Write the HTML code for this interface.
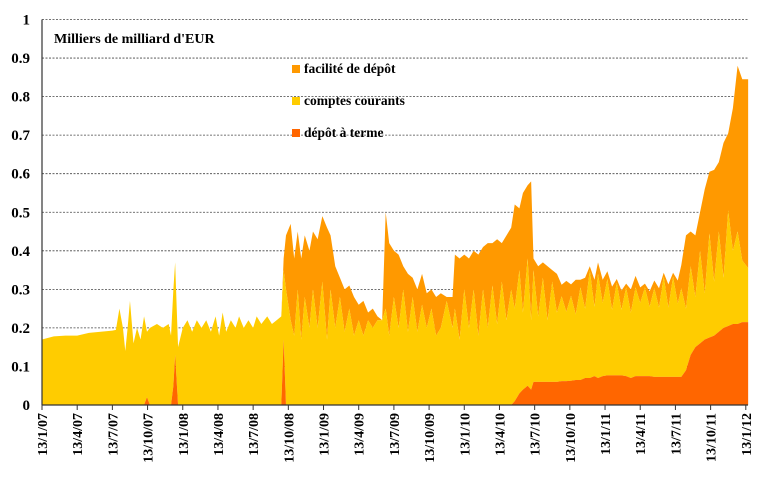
<!DOCTYPE html>
<html><head><meta charset="utf-8"><style>
html,body{margin:0;padding:0;background:#fff;width:780px;height:500px;overflow:hidden}
svg text{font-family:"Liberation Serif",serif;font-weight:bold;fill:#000}
</style></head><body>
<svg id="chart" width="780" height="500" xmlns="http://www.w3.org/2000/svg"></svg>
<script>
const months=[0,1,2,3,4,5,6,6.3,6.6,6.9,7.1,7.3,7.5,7.8,8.1,8.4,8.7,8.95,9.2,9.8,10.3,10.8,11.0,11.2,11.35,11.6,12,12.4,12.8,13.2,13.6,14,14.4,14.8,15.1,15.4,15.7,16.1,16.5,16.8,17.2,17.6,18,18.3,18.7,19.2,19.6,20,20.4,20.6,20.8,21.2,21.5,21.8,22.1,22.4,22.8,23.1,23.5,23.9,24.3,24.6,25,25.4,25.8,26.2,26.6,27,27.4,27.8,28.2,28.6,29.0,29.3,29.6,30,30.4,30.8,31.2,31.6,32,32.4,32.8,33.2,33.6,34,34.5,35,35.2,35.6,36,36.4,36.8,37.2,37.6,38,38.4,38.8,39.2,39.6,40,40.3,40.7,41.0,41.4,41.7,41.9,42.3,42.7,43.1,43.5,43.9,44.3,44.7,45.1,45.5,45.9,46.3,46.7,47.1,47.4,47.8,48.2,48.6,49,49.4,49.8,50.2,50.6,51,51.4,51.8,52.2,52.6,53,53.4,53.8,54.2,54.5,54.9,55.3,55.7,56.1,56.5,56.9,57.3,57.7,58.1,58.5,58.9,59.3,59.7,60.2];
const depotTerme=[0,0,0,0,0,0,0,0,0,0,0,0,0,0,0,0,0,.02,0,0,0,0,0,.05,.13,0,0,0,0,0,0,0,0,0,0,0,0,0,0,0,0,0,0,0,0,0,0,0,0,.17,0,0,0,0,0,0,0,0,0,0,0,0,0,0,0,0,0,0,0,0,0,0,0,0,0,0,0,0,0,0,0,0,0,0,0,0,0,0,0,0,0,0,0,0,0,0,0,0,0,0,0,.01,.03,.04,.05,.04,.06,.06,.06,.06,.06,.06,.062,.062,.063,.065,.065,.07,.07,.075,.07,.075,.077,.077,.077,.077,.075,.07,.075,.075,.075,.075,.073,.073,.073,.073,.073,.073,.073,.09,.13,.15,.16,.17,.175,.18,.19,.2,.205,.21,.21,.215,.215];
const comptesCourants=[.17,.178,.18,.18,.187,.19,.193,.195,.25,.2,.14,.2,.27,.16,.2,.17,.23,.17,.2,.21,.2,.21,.18,.25,.24,.15,.2,.22,.19,.22,.2,.22,.19,.23,.18,.24,.19,.22,.2,.23,.2,.22,.2,.23,.21,.23,.21,.22,.23,.18,.3,.22,.18,.3,.17,.28,.2,.3,.2,.32,.17,.3,.2,.28,.19,.25,.18,.22,.18,.22,.2,.22,.22,.25,.18,.28,.2,.3,.19,.28,.19,.26,.2,.25,.18,.2,.27,.2,.25,.17,.3,.2,.3,.18,.3,.2,.31,.21,.32,.22,.3,.24,.32,.2,.33,.18,.29,.17,.27,.16,.26,.18,.22,.18,.22,.17,.24,.18,.28,.18,.27,.19,.25,.17,.24,.17,.23,.17,.23,.19,.23,.18,.23,.18,.26,.18,.26,.19,.23,.16,.23,.13,.24,.12,.27,.14,.26,.13,.3,.19,.24,.16,.14];
const faciliteDepot=[0,0,0,0,0,0,0,0,0,0,0,0,0,0,0,0,0,0,0,0,0,0,0,0,0,0,0,0,0,0,0,0,0,0,0,0,0,0,0,0,0,0,0,0,0,0,0,0,0,.03,.14,.25,.2,.15,.21,.16,.2,.15,.23,.17,.29,.14,.16,.05,.11,.06,.1,.04,.09,.02,.05,.01,0,.25,.24,.12,.19,.06,.15,.05,.11,.08,.09,.05,.1,.09,.01,.08,.14,.21,.09,.18,.1,.21,.11,.22,.11,.22,.1,.22,.16,.27,.16,.31,.19,.36,.03,.13,.04,.14,.03,.1,.03,.08,.03,.09,.02,.08,.01,.07,.03,.06,.02,.06,.01,.05,.01,.06,.03,.04,.01,.04,.02,.05,.01,.06,.01,.06,.06,.19,.09,.16,.1,.27,.16,.29,.18,.35,.2,.37,.43,.47,.49];
const yTicks=[0,0.1,0.2,0.3,0.4,0.5,0.6,0.7,0.8,0.9,1];
const yTickLabels=["0","0.1","0.2","0.3","0.4","0.5","0.6","0.7","0.8","0.9","1"];
const xTickMonths=[0,3,6,9,12,15,18,21,24,27,30,33,36,39,42,45,48,51,54,57,60];
const xTickLabels=["13/1/07","13/4/07","13/7/07","13/10/07","13/1/08","13/4/08","13/7/08","13/10/08","13/1/09","13/4/09","13/7/09","13/10/09","13/1/10","13/4/10","13/7/10","13/10/10","13/1/11","13/4/11","13/7/11","13/10/11","13/1/12"];

const svg=document.getElementById('chart');
const NS='http://www.w3.org/2000/svg';
const X0=42,X1=748,Y0=405,YTOP=19.5;
const xs=m=>X0+m*11.73;
const ys=v=>Y0-v*(Y0-YTOP);
function mk(tag,attrs){const e=document.createElementNS(NS,tag);for(const k in attrs)e.setAttribute(k,attrs[k]);svg.appendChild(e);return e;}

// gridlines
yTicks.forEach((v,i)=>{
  if(v>0){const g=mk('line',{x1:X0,x2:X1,y1:ys(v),y2:ys(v),stroke:'#444','stroke-width':0.8,'stroke-dasharray':'2,1.5'});
  
  }
  const t=mk('text',{x:30,y:ys(v)+5,'text-anchor':'end','font-size':15});
  t.textContent=yTickLabels[i];
  
  
});

// stacked areas
const n=months.length;
const l1=[],l2=[],l3=[];
for(let i=0;i<n;i++){l1.push(depotTerme[i]);l2.push(depotTerme[i]+comptesCourants[i]);l3.push(l2[i]+faciliteDepot[i]);}
function area(top,bot,color,name){
  let d='M'+xs(months[0])+','+ys(top[0]);
  for(let i=1;i<n;i++)d+='L'+xs(months[i])+','+ys(top[i]);
  for(let i=n-1;i>=0;i--)d+='L'+xs(months[i])+','+ys(bot?bot[i]:0);
  const p=mk('path',{d:d+'Z',fill:color});
  
  
}
area(l3,l2,'#FF9900','area-facilite-de-depot');
area(l2,l1,'#FFCC00','area-comptes-courants');
area(l1,null,'#FF6600','area-depot-a-terme');

// axes
const ax=mk('line',{x1:X0,x2:X0,y1:YTOP,y2:Y0,stroke:'#333','stroke-width':1.2});


const bx=mk('line',{x1:X0,x2:X1,y1:Y0,y2:Y0,stroke:'#333','stroke-width':1.2});


xTickMonths.forEach((m,i)=>{
  const tk=mk('line',{x1:xs(m),x2:xs(m),y1:Y0,y2:Y0+5,stroke:'#333','stroke-width':1});
  
  
  const t=mk('text',{x:0,y:0,'text-anchor':'end','font-size':14,transform:'translate('+(xs(m)+5)+',413) rotate(-90)'});
  t.textContent=xTickLabels[i];
  
  
});

// title
const tt=mk('text',{x:54,y:43,'font-size':14});
tt.textContent="Milliers  de milliard  d'EUR";



// legend
const legNames=['facilité de dépôt','comptes courants','dépôt à terme'];
const legColors=['#FF9900','#FFCC00','#FF6600'];
const legY=[73,105,137];
legNames.forEach((s,i)=>{
  const r=mk('rect',{x:292,y:legY[i]-8,width:8,height:8,fill:legColors[i]});
  
  
  const t=mk('text',{x:304,y:legY[i],'font-size':13.5});
  t.textContent=s;
  
  
});
</script>
</body></html>
